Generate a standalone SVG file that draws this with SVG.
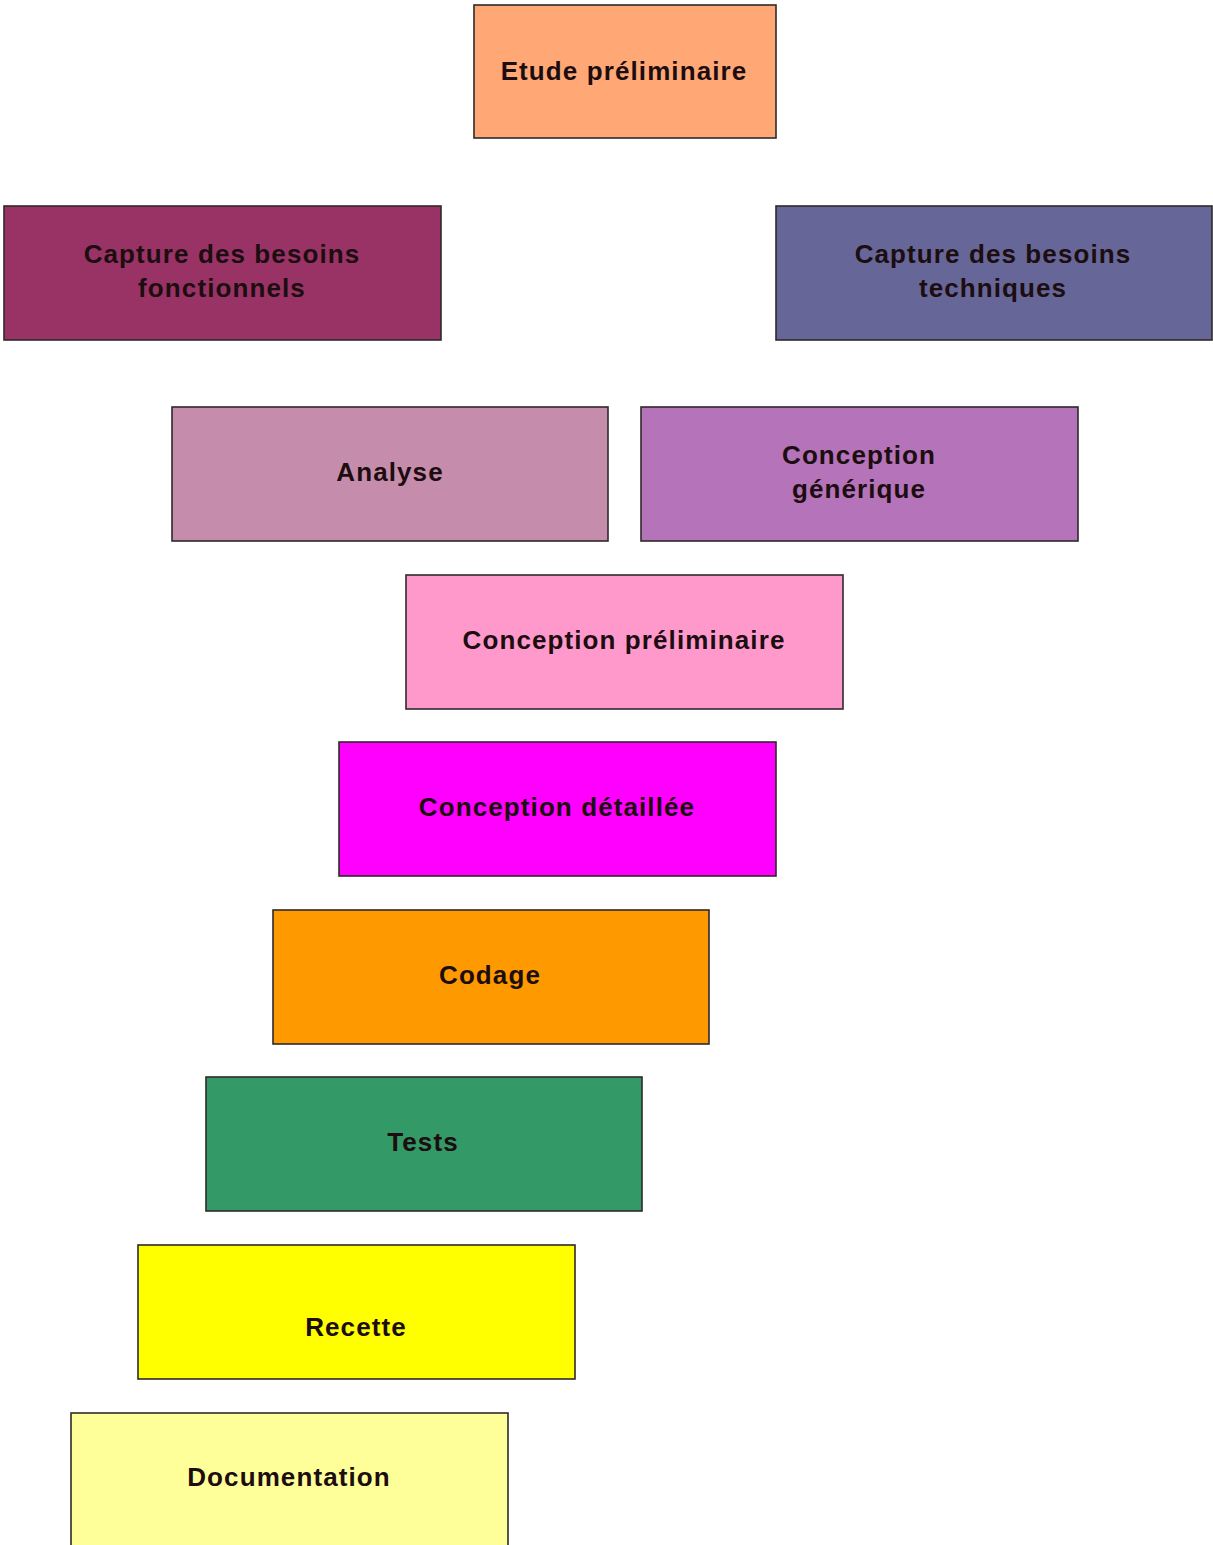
<svg xmlns="http://www.w3.org/2000/svg" width="1213" height="1545" viewBox="0 0 1213 1545">
  <style>
    .box { stroke: #2e2a2a; stroke-width: 1.6; }
    .lbl { font-family: "Liberation Sans", Arial, sans-serif; font-weight: bold; font-size: 26px; letter-spacing: 1.1px; fill: #1c0d10; text-anchor: middle; }
  </style>
  <rect width="1213" height="1545" fill="#ffffff"/>

  <g id="connectors"></g>

  <g id="etude-preliminaire">
    <rect class="box" x="474" y="5" width="302" height="133" fill="#FFA875"/>
    <text class="lbl" x="624" y="80">Etude préliminaire</text>
  </g>

  <g id="capture-fonctionnels">
    <rect class="box" x="4" y="206" width="437" height="134" fill="#993366"/>
    <text class="lbl" x="222" y="263">Capture des besoins</text>
    <text class="lbl" x="222" y="297">fonctionnels</text>
  </g>

  <g id="capture-techniques">
    <rect class="box" x="776" y="206" width="436" height="134" fill="#666699"/>
    <text class="lbl" x="993" y="263">Capture des besoins</text>
    <text class="lbl" x="993" y="297">techniques</text>
  </g>

  <g id="analyse">
    <rect class="box" x="172" y="407" width="436" height="134" fill="#C68CAB"/>
    <text class="lbl" x="390" y="481">Analyse</text>
  </g>

  <g id="conception-generique">
    <rect class="box" x="641" y="407" width="437" height="134" fill="#B573B9"/>
    <text class="lbl" x="859" y="464">Conception</text>
    <text class="lbl" x="859" y="498">générique</text>
  </g>

  <g id="conception-preliminaire">
    <rect class="box" x="406" y="575" width="437" height="134" fill="#FF99CC"/>
    <text class="lbl" x="624" y="649">Conception préliminaire</text>
  </g>

  <g id="conception-detaillee">
    <rect class="box" x="339" y="742" width="437" height="134" fill="#FF00FF"/>
    <text class="lbl" x="557" y="816">Conception détaillée</text>
  </g>

  <g id="codage">
    <rect class="box" x="273" y="910" width="436" height="134" fill="#FF9900"/>
    <text class="lbl" x="490" y="984">Codage</text>
  </g>

  <g id="tests">
    <rect class="box" x="206" y="1077" width="436" height="134" fill="#339966"/>
    <text class="lbl" x="423" y="1151">Tests</text>
  </g>

  <g id="recette">
    <rect class="box" x="138" y="1245" width="437" height="134" fill="#FFFF00"/>
    <text class="lbl" x="356" y="1336">Recette</text>
  </g>

  <g id="documentation">
    <rect class="box" x="71" y="1413" width="437" height="140" fill="#FFFF99"/>
    <text class="lbl" x="289" y="1486">Documentation</text>
  </g>
</svg>
